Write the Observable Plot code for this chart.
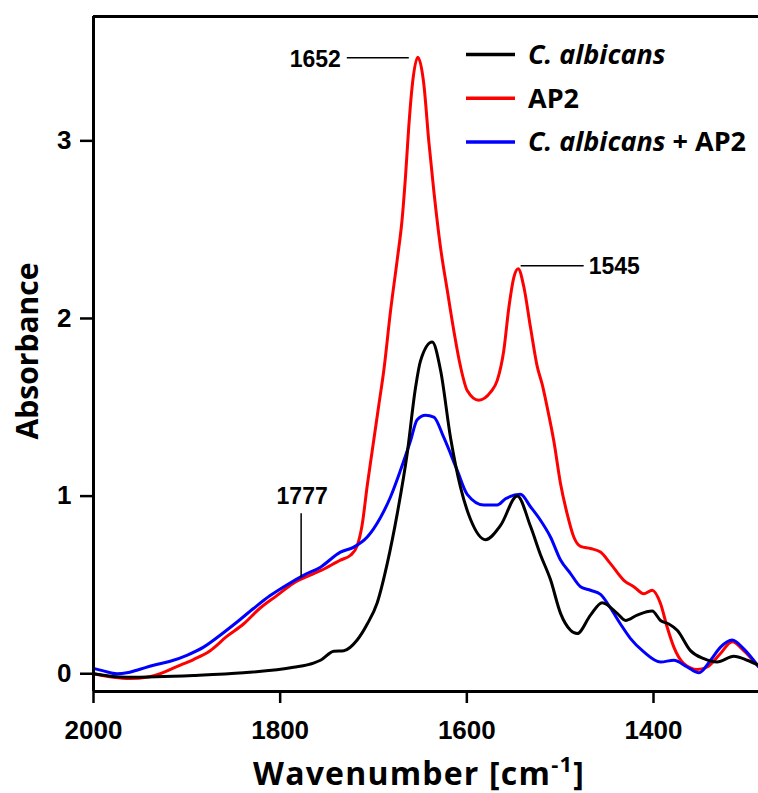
<!DOCTYPE html>
<html><head><meta charset="utf-8">
<script src="https://cdn.jsdelivr.net/npm/d3@7"></script>
<script src="https://cdn.jsdelivr.net/npm/@observablehq/plot@0.6"></script>
<style>body{margin:0;background:#fff} svg{display:block}</style>
</head><body><div id="chart"></div>
<script>
const seriesNames = ["C. albicans", "AP2", "C. albicans + AP2"];
const seriesColors = ["#000000", "#ff0000", "#0000ff"];

// C. albicans
const caWn  = [2000,1964.6,1892.9,1839.3,1785.7,1764.3,1756.8,1742.5,1731.8,1717.5,1706.7,1696.0,1685.3,1674.6,1663.9,1655.0,1649.7,1637.1,1628.2,1617.5,1606.8,1596.1,1580.0,1563.9,1546.0,1531.8,1521.1,1510.4,1499.6,1488.9,1481.8,1467.5,1455.0,1438.9,1430.0,1417.5,1401.4,1392.5,1383.6,1374.6,1360.4,1346.1,1331.8,1314.0,1299.6,1287.5];
const caAbs = [0.0,-0.02,-0.01,0.005,0.036,0.06,0.076,0.127,0.13,0.19,0.28,0.40,0.62,0.90,1.24,1.61,1.76,1.867,1.71,1.33,1.05,0.87,0.755,0.835,1.00,0.83,0.67,0.53,0.34,0.245,0.226,0.33,0.40,0.34,0.30,0.33,0.353,0.30,0.28,0.245,0.13,0.085,0.066,0.098,0.076,0.048];

// AP2
const apWn  = [2000,1978.6,1960.7,1942.9,1928.5,1910.8,1892.9,1875.0,1857.2,1839.3,1821.4,1803.6,1785.7,1767.8,1756.8,1735.4,1724.6,1717.5,1712.1,1706.7,1701.4,1694.3,1688.9,1681.8,1674.6,1669.3,1665.7,1662.2,1658.5,1652.5,1646.1,1640.8,1635.4,1628.2,1621.0,1613.9,1606.8,1599.6,1587.2,1574.6,1567.5,1560.4,1555.0,1549.7,1545.0,1539.0,1531.8,1524.6,1519.3,1513.9,1506.8,1499.6,1492.5,1485.4,1478.2,1467.5,1456.8,1446.1,1431.8,1421.1,1410.4,1401.4,1392.5,1385.4,1378.2,1367.5,1353.2,1342.5,1328.2,1315.7,1303.3,1287.5];
const apAbs = [0.0,-0.02,-0.027,-0.02,0.0,0.04,0.08,0.13,0.21,0.28,0.37,0.44,0.51,0.555,0.58,0.64,0.667,0.72,0.84,1.06,1.254,1.513,1.71,2.04,2.33,2.56,2.80,3.08,3.31,3.47,3.32,3.00,2.72,2.40,2.16,1.93,1.73,1.595,1.54,1.585,1.65,1.82,2.06,2.23,2.28,2.18,1.95,1.73,1.63,1.50,1.31,1.07,0.90,0.77,0.717,0.705,0.685,0.62,0.526,0.49,0.45,0.47,0.395,0.263,0.15,0.057,0.024,0.038,0.114,0.18,0.13,0.04];

// C. albicans + AP2
const mixWn  = [2000,1989.3,1975.0,1964.3,1953.6,1935.7,1917.8,1900.0,1882.1,1864.3,1846.5,1828.6,1810.7,1792.9,1775.0,1756.8,1735.4,1721.1,1706.7,1692.5,1681.8,1671.1,1660.4,1653.2,1644.3,1635.4,1624.7,1610.3,1599.6,1581.8,1567.5,1558.6,1542.5,1531.8,1521.1,1510.4,1499.6,1488.9,1478.2,1467.5,1456.8,1446.1,1435.4,1424.6,1410.4,1392.5,1378.2,1363.9,1351.4,1338.9,1328.2,1315.7,1303.3,1287.5];
const mixAbs = [0.03,0.016,0.0,0.005,0.02,0.048,0.07,0.104,0.15,0.217,0.29,0.367,0.44,0.50,0.554,0.60,0.685,0.713,0.77,0.88,0.995,1.145,1.31,1.43,1.455,1.445,1.33,1.145,1.01,0.95,0.95,0.985,1.01,0.94,0.864,0.77,0.64,0.564,0.49,0.47,0.447,0.37,0.28,0.198,0.123,0.066,0.076,0.038,0.005,0.076,0.15,0.19,0.14,0.04];

const xTicks = [2000, 1800, 1600, 1400];
const yTicks = [0, 1, 2, 3];
const xDomain = [2000, 1287.5];
const yDomain = [-0.1, 3.7];

const annLabels = ["1652", "1545", "1777"];
const annWn = [1652, 1545, 1777];
const annAbs = [3.47, 2.28, 0.535];

const seriesData = [[caWn, caAbs], [apWn, apAbs], [mixWn, mixAbs]];
const drawOrder = [1, 2, 0];
const rows = [];
for (const i of drawOrder) {
  const [w, a] = seriesData[i];
  w.forEach((v, j) => rows.push({series: seriesNames[i], wn: v, abs: a[j]}));
}

const tickFont = "'Liberation Sans', Arial, sans-serif";
const titleFont = "'Open Sans', sans-serif";

const plot = Plot.plot({
  width: 758, height: 793,
  marginLeft: 93, marginRight: 0, marginTop: 16, marginBottom: 102,
  x: {domain: xDomain},
  y: {domain: yDomain},
  color: {domain: seriesNames, range: seriesColors},
  style: {background: "#fff", color: "#000"},
  marks: [
    Plot.axisX({ticks: xTicks, tickFormat: "d", tickSize: 12, tickPadding: 17, strokeWidth: 2.5,
      fontSize: 26, fontWeight: "bold", fontFamily: tickFont, label: null}),
    Plot.axisY({ticks: yTicks, tickFormat: "d", tickSize: 13, tickPadding: 9, strokeWidth: 2.5,
      fontSize: 26, fontWeight: "bold", fontFamily: tickFont, label: null}),
    Plot.line(rows, {x: "wn", y: "abs", z: "series", stroke: "series", strokeWidth: 3, curve: "monotone-x"}),
    Plot.ruleX([xDomain[0]], {stroke: "#000", strokeWidth: 3}),
    Plot.ruleY([yDomain[0], yDomain[1]], {stroke: "#000", strokeWidth: 3})
  ]
});

const svg = d3.select(plot);
const sx = plot.scale("x").apply, sy = plot.scale("y").apply;

// axis titles
svg.append("text")
  .attr("transform", `translate(38,351) rotate(-90)`)
  .attr("text-anchor", "middle")
  .attr("font-family", titleFont).attr("font-weight", "bold").attr("font-size", 30)
  .attr("fill", "#000").text("Absorbance");
const xt = svg.append("text")
  .attr("x", 419).attr("y", 785).attr("text-anchor", "middle")
  .attr("font-family", titleFont).attr("font-weight", "bold").attr("font-size", 32)
  .attr("letter-spacing", 1.2)
  .attr("fill", "#000");
xt.append("tspan").text("Wavenumber [cm");
xt.append("tspan").attr("font-size", 22).attr("dy", -13).text("-1");
xt.append("tspan").attr("dy", 13).text("]");

// legend
const lg = svg.append("g").attr("font-family", titleFont).attr("font-weight", "bold").attr("font-size", 27).attr("text-anchor", "start");
seriesNames.forEach((name, i) => {
  const y = 54.5 + i * 43.7;
  lg.append("line").attr("x1", 466).attr("x2", 515).attr("y1", y).attr("y2", y)
    .attr("stroke", seriesColors[i]).attr("stroke-width", 3.5);
  const t = lg.append("text").attr("x", 528).attr("y", y + 9.5).attr("fill", "#000").attr("text-anchor", "start");
  const m = name.match(/^(C\. albicans)(.*)$/);
  if (m) {
    t.append("tspan").attr("font-style", "italic").text(m[1]);
    if (m[2]) t.append("tspan").text(m[2]);
  } else {
    t.text(name);
  }
});

// peak annotations
const ann = svg.append("g").attr("font-family", tickFont).attr("font-weight", "bold").attr("font-size", 23).attr("fill", "#000");
const dirs = ["left", "right", "up"];
annLabels.forEach((lab, i) => {
  const px = sx(annWn[i]), py = sy(annAbs[i]);
  if (dirs[i] === "left") {
    ann.append("line").attr("x1", px - 71).attr("x2", px - 9).attr("y1", py + 1).attr("y2", py + 1).attr("stroke", "#000").attr("stroke-width", 1.5);
    ann.append("text").attr("x", px - 77).attr("y", py + 10).attr("text-anchor", "end").text(lab);
  } else if (dirs[i] === "right") {
    ann.append("line").attr("x1", px + 3).attr("x2", px + 66).attr("y1", py - 2.5).attr("y2", py - 2.5).attr("stroke", "#000").attr("stroke-width", 1.5);
    ann.append("text").attr("x", px + 71).attr("y", py + 6).attr("text-anchor", "start").text(lab);
  } else {
    ann.append("line").attr("x1", px).attr("x2", px).attr("y1", py - 65).attr("y2", py - 1).attr("stroke", "#000").attr("stroke-width", 1.5);
    ann.append("text").attr("x", px + 1).attr("y", py - 74).attr("text-anchor", "middle").text(lab);
  }
});

document.getElementById("chart").appendChild(plot);
</script>
</body></html>
